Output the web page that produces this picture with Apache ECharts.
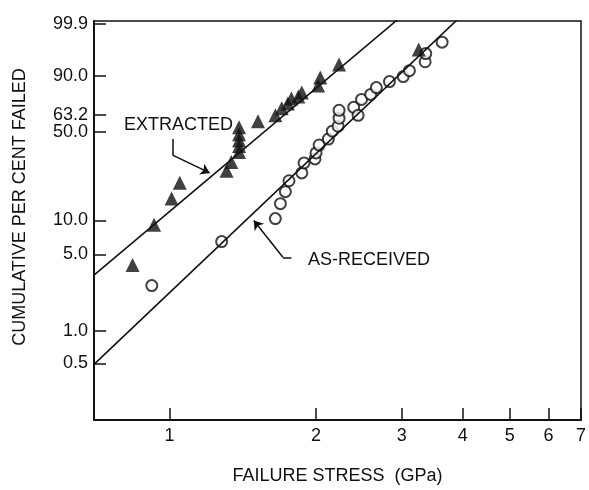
<!DOCTYPE html>
<html>
<head>
<meta charset="utf-8">
<script src="https://cdn.jsdelivr.net/npm/echarts@6/dist/echarts.min.js"></script>
<style>
    html, body { margin: 0; padding: 0; background: #fff; }
    #chart { width: 589px; height: 490px; }
</style>
</head>
<body>
<div id="chart"></div>
<script>
// tick labels
const stressTicks = [1, 2, 3, 4, 5, 6, 7];
const percentTicks = [0.5, 1.0, 5.0, 10.0, 50.0, 63.2, 90.0, 99.9];

// EXTRACTED (GPa, % failed)
const extractedStress = [0.84, 0.93, 1.01, 1.05, 1.31, 1.34, 1.39, 1.39, 1.39, 1.39, 1.39, 1.52, 1.65, 1.70, 1.75, 1.78, 1.84, 1.87, 2.02, 2.04, 2.23, 3.25];
const extractedPercent = [4.0, 9.2, 15.5, 21.0, 26.2, 30.7, 36.5, 40.2, 44.2, 48.5, 53.6, 58.2, 62.9, 68.3, 72.1, 75.8, 77.3, 80.1, 84.6, 89.1, 94.6, 98.2];

// AS-RECEIVED
const receivedStress = [0.92, 1.28, 1.65, 1.69, 1.73, 1.76, 1.87, 1.89, 1.99, 2.00, 2.03, 2.12, 2.16, 2.22, 2.23, 2.23, 2.39, 2.44, 2.48, 2.59, 2.66, 2.83, 3.02, 3.11, 3.35, 3.36, 3.63];
const receivedPercent = [2.6, 6.5, 10.4, 14.0, 17.7, 21.8, 25.2, 30.2, 32.4, 35.9, 40.9, 45.0, 50.7, 54.4, 60.6, 66.8, 69.1, 62.9, 75.1, 78.7, 83.3, 86.9, 89.6, 92.3, 95.5, 97.5, 99.1];

// fitted lines, end points
const extractedFitStress = [0.7, 2.94];
const extractedFitPercent = [3.24, 99.95];
const receivedFitStress = [0.7, 3.9];
const receivedFitPercent = [0.49, 99.95];

// label leaders (last segment gets the arrow)
const extractedLeaderStress = [1.015, 1.015, 1.21];
const extractedLeaderPercent = [45.0, 34.6, 25.2];
const receivedLeaderStress = [1.78, 1.71, 1.49];
const receivedLeaderPercent = [4.7, 4.7, 10.0];

// weibull paper: x = ln(stress), y = ln(-ln(1 - F))
const toX = s => Math.log(s);
const toY = p => Math.log(-Math.log(1 - p / 100));
const pairs = (xs, ys) => xs.map((s, i) => [toX(s), toY(ys[i])]);

const font = "'Liberation Sans', Arial, sans-serif";
const ink = '#111';

const extractedLeader = pairs(extractedLeaderStress, extractedLeaderPercent);
const receivedLeader = pairs(receivedLeaderStress, receivedLeaderPercent);

const chart = echarts.init(document.getElementById('chart'));

chart.setOption({
    animation: false,
    backgroundColor: '#fff',
    grid: {
        left: 94,
        right: 5,
        top: 21,
        bottom: 67,
        show: true,
        borderColor: ink,
        borderWidth: 1.5
    },
    xAxis: {
        type: 'value',
        min: toX(0.7),
        max: toX(7),
        name: 'FAILURE STRESS  (GPa)',
        nameLocation: 'middle',
        nameGap: 47,
        nameTextStyle: { fontFamily: font, fontSize: 18, color: ink },
        splitLine: { show: false },
        axisLine: { onZero: false, lineStyle: { color: ink, width: 2 } },
        axisTick: {
            inside: true,
            length: 12,
            customValues: stressTicks.map(toX),
            lineStyle: { color: ink, width: 1.5 }
        },
        axisLabel: {
            customValues: stressTicks.map(toX),
            formatter: v => String(Math.round(Math.exp(v))),
            margin: 7,
            fontFamily: font,
            fontSize: 18,
            color: ink
        }
    },
    yAxis: {
        type: 'value',
        min: -6.5,
        max: 2.0,
        splitLine: { show: false },
        axisLine: { onZero: false, lineStyle: { color: ink, width: 2 } },
        axisTick: {
            inside: true,
            length: 12,
            customValues: percentTicks.map(toY),
            lineStyle: { color: ink, width: 1.5 }
        },
        axisLabel: {
            customValues: percentTicks.map(toY),
            formatter: v => {
                const p = percentTicks.find(t => Math.abs(toY(t) - v) < 1e-6);
                return p === undefined ? '' : p.toFixed(1);
            },
            margin: 6,
            fontFamily: font,
            fontSize: 18,
            color: ink
        }
    },
    graphic: [
        {
            type: 'text',
            x: 20,
            y: 207,
            rotation: Math.PI / 2,
            style: {
                text: 'CUMULATIVE PER CENT FAILED',
                font: '18px ' + font,
                fill: ink,
                textAlign: 'center',
                textVerticalAlign: 'middle'
            }
        },
        {
            type: 'text',
            x: 124,
            y: 125,
            style: { text: 'EXTRACTED', font: '18px ' + font, fill: ink, textVerticalAlign: 'middle' }
        },
        {
            type: 'text',
            x: 308,
            y: 260,
            style: { text: 'AS-RECEIVED', font: '18px ' + font, fill: ink, textVerticalAlign: 'middle' }
        }
    ],
    series: [
        {
            type: 'line',
            data: pairs(extractedFitStress, extractedFitPercent),
            showSymbol: false,
            lineStyle: { color: ink, width: 1.6 },
            clip: true
        },
        {
            type: 'line',
            data: pairs(receivedFitStress, receivedFitPercent),
            showSymbol: false,
            lineStyle: { color: ink, width: 1.6 },
            clip: true
        },
        {
            // leader bends
            type: 'lines',
            coordinateSystem: 'cartesian2d',
            symbol: 'none',
            lineStyle: { color: ink, width: 1.5, opacity: 1 },
            data: [
                { coords: [extractedLeader[0], extractedLeader[1]] },
                { coords: [receivedLeader[0], receivedLeader[1]] }
            ]
        },
        {
            // leader arrows
            type: 'lines',
            coordinateSystem: 'cartesian2d',
            symbol: ['none', 'arrow'],
            symbolSize: 9,
            lineStyle: { color: ink, width: 1.5, opacity: 1 },
            itemStyle: { color: ink },
            data: [
                { coords: [extractedLeader[1], extractedLeader[2]] },
                { coords: [receivedLeader[1], receivedLeader[2]] }
            ]
        },
        {
            type: 'scatter',
            data: pairs(receivedStress, receivedPercent),
            symbol: 'circle',
            symbolSize: 11,
            itemStyle: { color: '#fff', borderColor: ink, borderWidth: 2 }
        },
        {
            type: 'scatter',
            data: pairs(extractedStress, extractedPercent),
            symbol: 'triangle',
            symbolSize: 14,
            itemStyle: { color: ink }
        }
    ]
});
</script>
</body>
</html>
